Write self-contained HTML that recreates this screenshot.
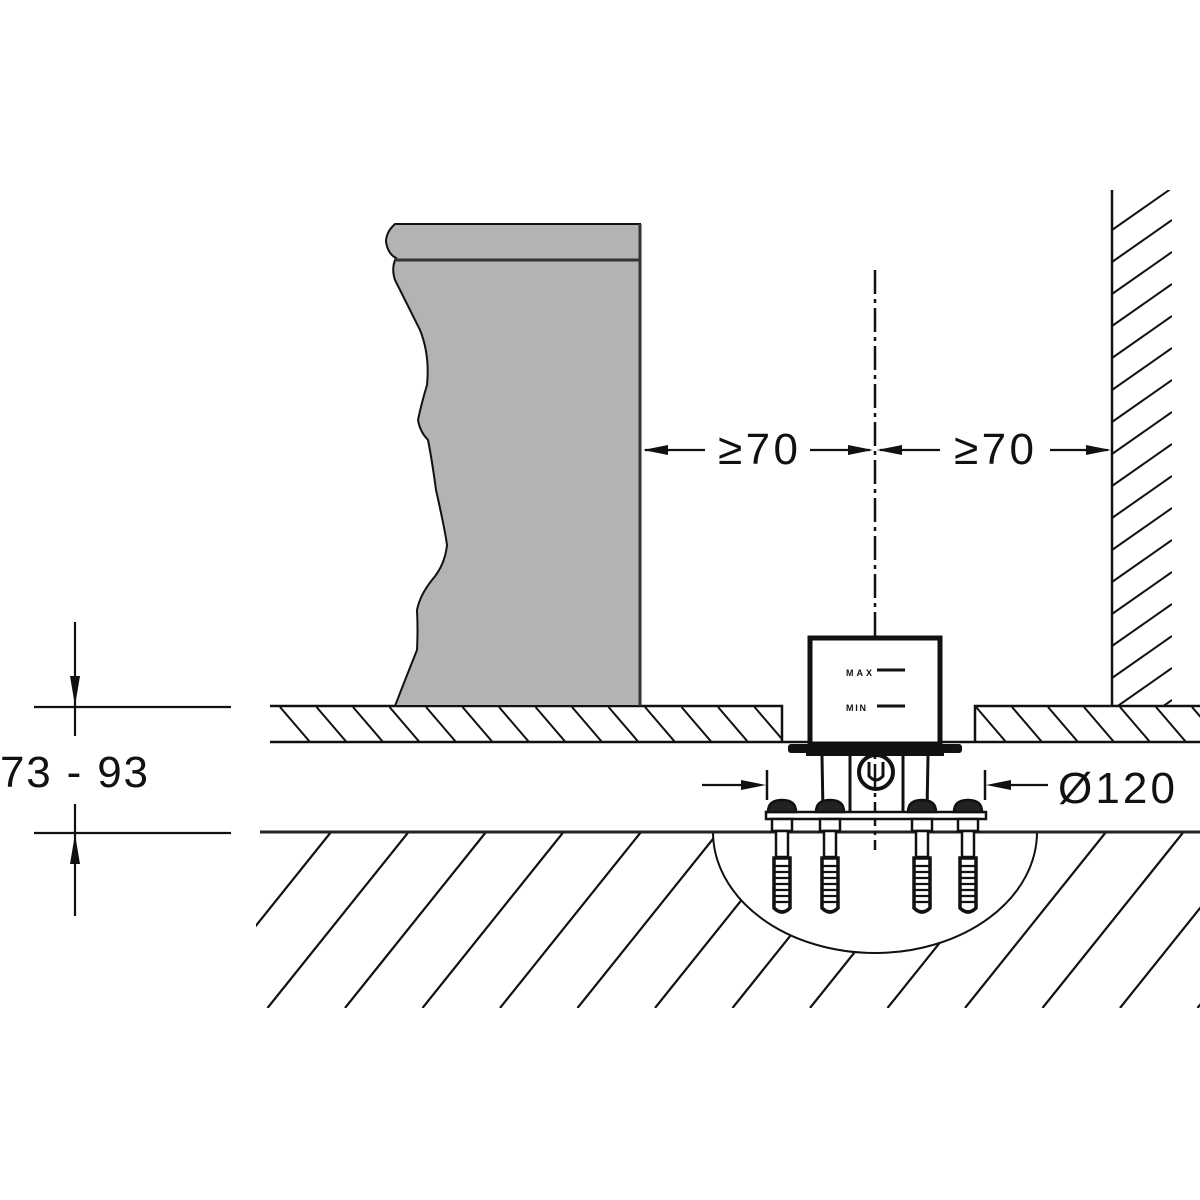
<!DOCTYPE html>
<html><head><meta charset="utf-8"><style>
html,body{margin:0;padding:0;background:#fff}
svg{display:block}
text{font-family:"Liberation Sans",sans-serif;fill:#111}
</style></head><body>
<svg width="1200" height="1200" viewBox="0 0 1200 1200" xmlns="http://www.w3.org/2000/svg">
<defs>
<clipPath id="gc"><rect x="256" y="832" width="944" height="176"/></clipPath>
<clipPath id="tc1"><rect x="271" y="707" width="511" height="35"/></clipPath>
<clipPath id="tc2"><rect x="976" y="707" width="224" height="35"/></clipPath>
<clipPath id="wc"><rect x="1112" y="190" width="60" height="516"/></clipPath>
</defs>

<g clip-path="url(#gc)" stroke="#111" stroke-width="2.2">
<line x1="331" y1="832" x2="190" y2="1008"/><line x1="408.5" y1="832" x2="267.5" y2="1008"/><line x1="486" y1="832" x2="345" y2="1008"/><line x1="563.5" y1="832" x2="422.5" y2="1008"/><line x1="641" y1="832" x2="500" y2="1008"/><line x1="718.5" y1="832" x2="577.5" y2="1008"/><line x1="796" y1="832" x2="655" y2="1008"/><line x1="873.5" y1="832" x2="732.5" y2="1008"/><line x1="951" y1="832" x2="810" y2="1008"/><line x1="1028.5" y1="832" x2="887.5" y2="1008"/><line x1="1106" y1="832" x2="965" y2="1008"/><line x1="1183.5" y1="832" x2="1042.5" y2="1008"/><line x1="1261" y1="832" x2="1120" y2="1008"/><line x1="1338.5" y1="832" x2="1197.5" y2="1008"/>
</g>
<path d="M713 832 A162 121 0 0 0 1037 832 Z" fill="#fff" stroke="#111" stroke-width="2"/>
<line x1="260" y1="832" x2="1200" y2="832" stroke="#222" stroke-width="3"/>

<g stroke="#111" stroke-width="2">
<g clip-path="url(#tc1)">
<path d="M280 707l30 35M316.5 707l30 35M353 707l30 35M389.5 707l30 35M426 707l30 35M462.5 707l30 35M499 707l30 35M535.5 707l30 35M572 707l30 35M608.5 707l30 35M645 707l30 35M681.5 707l30 35M718 707l30 35M754.5 707l30 35"/>
</g>
<g clip-path="url(#tc2)">
<path d="M976 707l30 35M1012 707l30 35M1048 707l30 35M1084 707l30 35M1120 707l30 35M1156 707l30 35M1192 707l30 35"/>
</g>
<path d="M270 706H782V742" fill="none" stroke-width="2.5"/>
<path d="M1200 706H975V742" fill="none" stroke-width="2.5"/>
<line x1="270" y1="742" x2="1200" y2="742" stroke-width="2.5"/>
</g>

<g clip-path="url(#wc)" stroke="#111" stroke-width="2">
<path d="M1112 230l60-42M1112 262l60-42M1112 294l60-42M1112 326l60-42M1112 358l60-42M1112 390l60-42M1112 422l60-42M1112 454l60-42M1112 486l60-42M1112 518l60-42M1112 550l60-42M1112 582l60-42M1112 614l60-42M1112 646l60-42M1112 678l60-42M1112 710l60-42M1112 742l60-42"/>
</g>
<line x1="1112" y1="190" x2="1112" y2="706" stroke="#111" stroke-width="2.5"/>

<path d="M640 224 L395 224 Q386 232 386 242 Q388 254 396 258 Q391 268 395 280 Q405 300 420 330 Q430 355 427 385 Q421 405 418 420 Q420 432 428 440 Q432 460 436 490 Q445 530 447 545 Q445 565 432 580 Q420 595 417 610 Q418 630 417 650 Q405 680 395 706 L640 706 Z" fill="#b3b3b3" stroke="#111" stroke-width="2"/>
<line x1="395" y1="260" x2="640" y2="260" stroke="#333" stroke-width="3"/>
<line x1="640" y1="224" x2="640" y2="706" stroke="#333" stroke-width="3"/>

<line x1="875" y1="270" x2="875" y2="850" stroke="#111" stroke-width="2.5" stroke-dasharray="24 5 4 5"/>

<g stroke="#111" stroke-width="2.2" fill="#111">
<line x1="645" y1="450" x2="705" y2="450"/><path d="M643 450l25-5v10z" stroke="none"/>
<line x1="810" y1="450" x2="870" y2="450"/><path d="M873 450l-25-5v10z" stroke="none"/>
<line x1="880" y1="450" x2="940" y2="450"/><path d="M877 450l25-5v10z" stroke="none"/>
<line x1="1050" y1="450" x2="1108" y2="450"/><path d="M1111 450l-25-5v10z" stroke="none"/>
</g>
<text x="718" y="464" font-size="44" textLength="80">≥70</text>
<text x="954" y="464" font-size="44" textLength="80">≥70</text>

<g stroke="#111" stroke-width="2.2" fill="#111">
<line x1="34" y1="707" x2="231" y2="707"/>
<line x1="34" y1="833" x2="231" y2="833"/>
<line x1="75" y1="622" x2="75" y2="736"/>
<line x1="75" y1="804" x2="75" y2="916"/>
<path d="M75 706l-5-30h10z" stroke="none"/>
<path d="M75 834l-5 30h10z" stroke="none"/>
</g>
<text x="0" y="787" font-size="44" textLength="148">73 - 93</text>

<g stroke="#111" stroke-width="2.2" fill="#111">
<line x1="702" y1="785" x2="745" y2="785"/><path d="M766 785l-25-5v10z" stroke="none"/>
<line x1="767" y1="770" x2="767" y2="800" stroke-width="2.5"/>
<line x1="1005" y1="785" x2="1048" y2="785"/><path d="M986 785l25-5v10z" stroke="none"/>
<line x1="985" y1="770" x2="985" y2="800" stroke-width="2.5"/>
</g>
<text x="1058" y="803" font-size="44" textLength="117">Ø120</text>

<rect x="810" y="638" width="130" height="106" fill="#fff" stroke="#111" stroke-width="5"/>
<rect x="788" y="744" width="174" height="9" rx="3" fill="#111"/>
<rect x="806" y="753" width="138" height="3" fill="#111"/>
<text x="846" y="676" font-size="9" font-weight="bold" textLength="26">MAX</text>
<text x="846" y="711" font-size="9" font-weight="bold" textLength="20">MIN</text>
<g stroke="#111" stroke-width="3">
<line x1="877" y1="670" x2="905" y2="670"/>
<line x1="877" y1="706" x2="905" y2="706"/>
<line x1="822" y1="756" x2="823" y2="812"/>
<line x1="850" y1="756" x2="850" y2="812"/>
<line x1="903" y1="756" x2="903" y2="812"/>
<line x1="928" y1="756" x2="927" y2="812"/>
</g>
<circle cx="876" cy="772" r="17" fill="none" stroke="#111" stroke-width="4"/>
<path d="M869 762v14q7 8 14 0v-14" fill="none" stroke="#111" stroke-width="3"/>

<rect x="766" y="812" width="220" height="7" fill="#fff" stroke="#111" stroke-width="2.5"/>

<g stroke="#111" stroke-width="2.5" fill="#fff">
<path d="M768 812q0-12 14-12q14 0 14 12z" fill="#222"/>
<path d="M816 812q0-12 14-12q14 0 14 12z" fill="#222"/>
<path d="M908 812q0-12 14-12q14 0 14 12z" fill="#222"/>
<path d="M954 812q0-12 14-12q14 0 14 12z" fill="#222"/>
<rect x="772" y="819" width="20" height="12"/><rect x="820" y="819" width="20" height="12"/>
<rect x="912" y="819" width="20" height="12"/><rect x="958" y="819" width="20" height="12"/>
<rect x="776" y="831" width="12" height="26"/><rect x="824" y="831" width="12" height="26"/>
<rect x="916" y="831" width="12" height="26"/><rect x="962" y="831" width="12" height="26"/>
</g>
<g fill="#fff" stroke="#111" stroke-width="3.5">
<path d="M774 858h16v50q-8 8-16 0z"/>
<path d="M822 858h16v50q-8 8-16 0z"/>
<path d="M914 858h16v50q-8 8-16 0z"/>
<path d="M960 858h16v50q-8 8-16 0z"/>
</g>
<g stroke="#111" stroke-width="2.2">
<path d="M774 866h16M774 872h16M774 878h16M774 884h16M774 890h16M774 896h16M774 902h16M822 866h16M822 872h16M822 878h16M822 884h16M822 890h16M822 896h16M822 902h16M914 866h16M914 872h16M914 878h16M914 884h16M914 890h16M914 896h16M914 902h16M960 866h16M960 872h16M960 878h16M960 884h16M960 890h16M960 896h16M960 902h16"/>
</g>
</svg>
</body></html>
